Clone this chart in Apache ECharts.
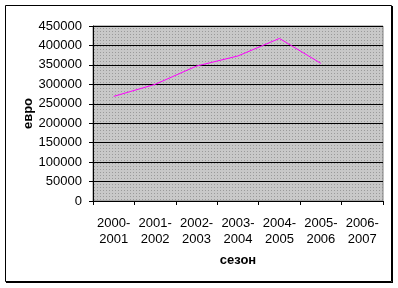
<!DOCTYPE html>
<html><head><meta charset="utf-8">
<script src="https://cdn.jsdelivr.net/npm/echarts@6/dist/echarts.min.js"></script>
<style>html,body{margin:0;padding:0;background:#fff}#c{width:398px;height:288px}</style>
</head><body><div id="c"></div>
<script>
var categories = ['2000-\n2001','2001-\n2002','2002-\n2003','2003-\n2004','2004-\n2005','2005-\n2006','2006-\n2007'];
var values = [269000, 300000, 347000, 373000, 418000, 354000, null];
var yTicks = {min: 0, max: 450000, interval: 50000};

var pc = document.createElement('canvas');
pc.width = 3; pc.height = 3;
var pctx = pc.getContext('2d');
pctx.fillStyle = '#c8c8c8'; pctx.fillRect(0,0,3,3);
pctx.fillStyle = '#9a9a9a'; pctx.fillRect(1,1,1,1);

var chart = echarts.init(document.getElementById('c'), null, {renderer:'canvas'});
var font = 'Liberation Sans, Arial, sans-serif';
chart.setOption({
  animation: false,
  grid: {left: 93, right: 15, top: 26, bottom: 87, show: true,
    backgroundColor: {image: pc, repeat: 'repeat'}, borderColor: '#808080', borderWidth: 1},
  xAxis: {
    type: 'category', data: categories, boundaryGap: true,
    name: 'сезон', nameLocation: 'middle', nameGap: 53, nameMoveOverlap: false,
    nameTextStyle: {fontFamily: font, fontSize: 13, fontWeight: 'bold', color: '#000'},
    axisLine: {lineStyle: {color: '#000', width: 1}},
    axisTick: {show: true, length: 4, inside: false, alignWithLabel: false, lineStyle: {color: '#000'}},
    axisLabel: {fontFamily: font, fontSize: 13, color: '#000', margin: 14, lineHeight: 16, interval: 0}
  },
  yAxis: {
    type: 'value', min: yTicks.min, max: yTicks.max, interval: yTicks.interval,
    name: 'евро', nameLocation: 'middle', nameGap: 65, nameRotate: 90, nameMoveOverlap: false,
    nameTextStyle: {fontFamily: font, fontSize: 13, fontWeight: 'bold', color: '#000', verticalAlign: 'middle'},
    axisLine: {show: true, lineStyle: {color: '#000', width: 1}},
    axisTick: {show: true, length: 4, lineStyle: {color: '#000'}},
    axisLabel: {fontFamily: font, fontSize: 13, color: '#000', margin: 11,
      formatter: function (v) { return String(v); }},
    splitLine: {show: true, lineStyle: {color: '#000', width: 1}}
  },
  series: [{
    type: 'line', data: values, symbol: 'none', connectNulls: false,
    lineStyle: {color: '#ff00ff', width: 1}
  }],
  graphic: [
    {type: 'rect', shape: {x: 5.5, y: 5.5, width: 386, height: 276}, style: {fill: 'none', stroke: '#000', lineWidth: 1}, silent: true},
    {type: 'line', shape: {x1: 392.5, y1: 6, x2: 392.5, y2: 283}, style: {stroke: '#000', lineWidth: 1}, silent: true},
    {type: 'line', shape: {x1: 6, y1: 282.5, x2: 393, y2: 282.5}, style: {stroke: '#000', lineWidth: 1}, silent: true}
  ]
});
</script></body></html>
